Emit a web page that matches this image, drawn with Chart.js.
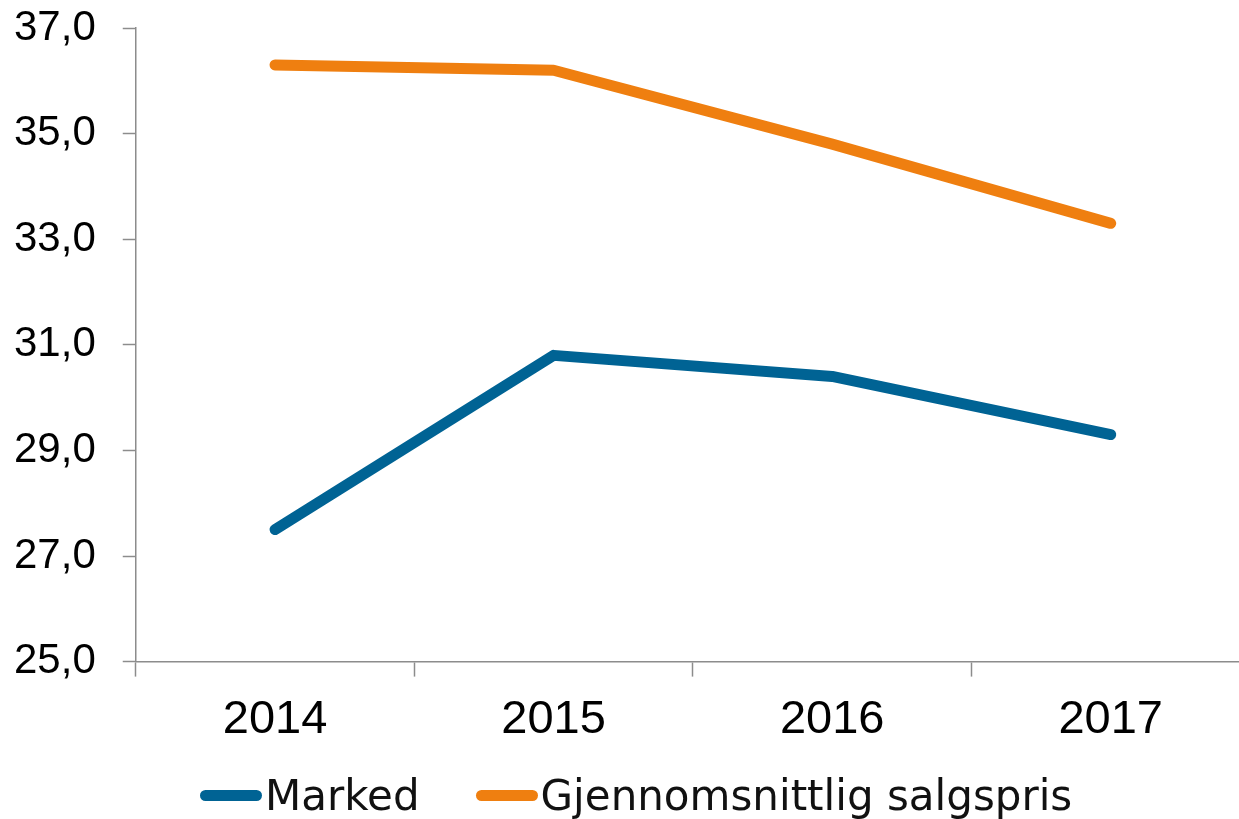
<!DOCTYPE html>
<html>
<head>
<meta charset="utf-8">
<script src="https://cdn.jsdelivr.net/npm/chart.js@4/dist/chart.umd.min.js"></script>
<style>
    html, body { margin: 0; padding: 0; background: #fff; overflow: hidden; }
    #wrap { position: relative; width: 1250px; height: 819px; }
    #legend {
        position: absolute; left: 200px; top: 771px;
        display: flex; align-items: center;
        font-family: 'DejaVu Sans', Verdana, sans-serif; font-size: 42px; color: #111;
    }
    .legend-item { display: flex; align-items: center; margin-right: 56px; }
    .legend-line { width: 62px; height: 11px; border-radius: 6px; margin-right: 3px; }
</style>
</head>
<body>
<div id="wrap">
    <canvas id="chart" width="1250" height="819"></canvas>
    <div id="legend"></div>
</div>
<script>
// Chart data
const years = ['2014', '2015', '2016', '2017'];
const marked = [27.5, 30.8, 30.4, 29.3];
const salgspris = [36.3, 36.2, 34.8, 33.3];
const yTicks = [25, 27, 29, 31, 33, 35, 37];

const blue = '#006394';
const orange = '#ef7f10';
const axisColor = '#8c8c8c';

const ctx = document.getElementById('chart').getContext('2d');
const chart = new Chart(ctx, {
    type: 'line',
    data: {
        labels: years,
        datasets: [
            {
                label: 'Marked',
                data: marked,
                borderColor: blue,
                backgroundColor: blue,
                borderWidth: 11,
                borderCapStyle: 'round',
                borderJoinStyle: 'round',
                pointRadius: 0,
                tension: 0
            },
            {
                label: 'Gjennomsnittlig salgspris',
                data: salgspris,
                borderColor: orange,
                backgroundColor: orange,
                borderWidth: 11,
                borderCapStyle: 'round',
                borderJoinStyle: 'round',
                pointRadius: 0,
                tension: 0
            }
        ]
    },
    options: {
        responsive: false,
        animation: false,
        layout: { padding: { left: -13, top: 28, right: 0, bottom: 56 } },
        plugins: {
            legend: { display: false },
            tooltip: { enabled: false }
        },
        scales: {
            x: {
                offset: true,
                grid: {
                    drawOnChartArea: false,
                    drawTicks: true,
                    tickLength: 15,
                    tickColor: axisColor,
                    tickWidth: 1.5,
                    offset: true
                },
                border: { color: axisColor, width: 1.5 },
                ticks: {
                    color: '#000',
                    padding: 15,
                    font: { family: "'Liberation Sans', Arial, sans-serif", size: 47 },
                    maxRotation: 0
                }
            },
            y: {
                min: 25,
                max: 37,
                afterBuildTicks: (scale) => {
                    scale.ticks = yTicks.map(v => ({ value: v }));
                },
                // let the layout padding alone decide where the plot starts
                afterFit: (scale) => {
                    scale.paddingTop = 0;
                    scale.paddingBottom = 0;
                },
                grid: {
                    drawOnChartArea: false,
                    tickLength: 13,
                    tickColor: axisColor,
                    tickWidth: 1.5
                },
                border: { color: axisColor, width: 1.5 },
                ticks: {
                    color: '#000',
                    padding: 27,
                    font: { family: "'Liberation Sans', Arial, sans-serif", size: 42 },
                    callback: (v) => Number(v).toFixed(1).replace('.', ',')
                }
            }
        }
    }
});

// HTML legend built from the datasets
const legendEl = document.getElementById('legend');
chart.data.datasets.forEach(ds => {
    const item = document.createElement('div');
    item.className = 'legend-item';
    const line = document.createElement('span');
    line.className = 'legend-line';
    line.style.background = ds.borderColor;
    const text = document.createElement('span');
    text.textContent = ds.label;
    item.appendChild(line);
    item.appendChild(text);
    legendEl.appendChild(item);
});
</script>
</body>
</html>
